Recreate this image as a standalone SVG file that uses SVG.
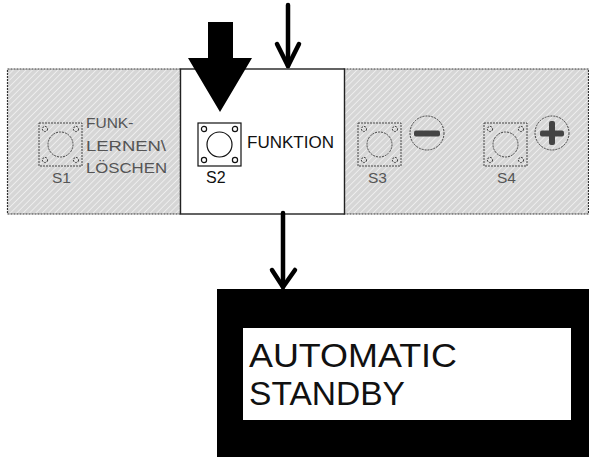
<svg xmlns="http://www.w3.org/2000/svg" width="589" height="457" viewBox="0 0 589 457">
<style>
.dim{fill:none;stroke:#444;stroke-width:1;stroke-dasharray:2 1}
.sol{fill:none;stroke:#111;stroke-width:1.2}
.lbl{font-family:"Liberation Sans",Arial,sans-serif;font-size:15.5px;fill:#555}
.lblk{font-family:"Liberation Sans",Arial,sans-serif;font-size:16px;fill:#111}
.disp{font-family:"Liberation Sans",Arial,sans-serif;font-size:33px;fill:#111}
.arr{fill:none;stroke:#000;stroke-width:4.5;stroke-linecap:round;stroke-linejoin:round}
</style>
<defs>
<pattern id="hatch" width="4.5" height="4.5" patternUnits="userSpaceOnUse" patternTransform="rotate(45)">
<rect width="4.5" height="4.5" fill="#d6d6d6"/>
<line x1="0" y1="0" x2="0" y2="4.5" stroke="#f2f2f2" stroke-width="1.6"/>
</pattern>
<g id="btn">
<rect x="0" y="0" width="43" height="43"/>
<circle cx="21.5" cy="21.5" r="12.5"/>
<circle cx="6" cy="6" r="2.6"/>
<circle cx="37" cy="6" r="2.6"/>
<circle cx="6" cy="37" r="2.6"/>
<circle cx="37" cy="37" r="2.6"/>
</g>
</defs>
<g id="panel-left">
<rect x="7.5" y="69" width="173" height="145" fill="url(#hatch)" stroke="#333" stroke-width="1.2" stroke-dasharray="2 1"/>
<use href="#btn" x="39" y="123" class="dim"/>
<text class="lbl" x="86" y="128">FUNK-</text>
<text class="lbl" x="86" y="151" textLength="80" lengthAdjust="spacingAndGlyphs">LERNEN\</text>
<text class="lbl" x="86" y="173" textLength="81" lengthAdjust="spacingAndGlyphs">LÖSCHEN</text>
<text class="lbl" x="52" y="183">S1</text>
</g>
<g id="panel-right">
<rect x="343.5" y="69" width="245" height="145" fill="url(#hatch)" stroke="#333" stroke-width="1.2" stroke-dasharray="2 1"/>
<use href="#btn" x="358" y="123" class="dim"/>
<circle cx="427" cy="133" r="17" class="dim"/>
<rect x="414" y="130.5" width="26" height="6" rx="2" fill="#444"/>
<text class="lbl" x="368" y="183">S3</text>
<use href="#btn" x="484" y="123" class="dim"/>
<circle cx="552" cy="133" r="17" class="dim"/>
<rect x="540" y="130.5" width="24" height="6" rx="2" fill="#444"/>
<rect x="549" y="121" width="6" height="24" rx="2" fill="#444"/>
<text class="lbl" x="497" y="183">S4</text>
</g>
<g id="panel-funktion">
<rect x="180.5" y="69" width="164" height="145" fill="#fff" stroke="#222" stroke-width="1.4"/>
<use href="#btn" x="198" y="123" class="sol"/>
<text class="lblk" x="247" y="148" font-size="17" textLength="87" lengthAdjust="spacingAndGlyphs">FUNKTION</text>
<text class="lblk" x="206" y="183">S2</text>
</g>
<g id="display">
<rect x="217" y="289" width="372" height="168" fill="#000"/>
<rect x="243" y="328" width="328" height="92" fill="#fff"/>
<text class="disp" x="249" y="367" textLength="208" lengthAdjust="spacingAndGlyphs">AUTOMATIC</text>
<text class="disp" x="249" y="405" textLength="156" lengthAdjust="spacingAndGlyphs">STANDBY</text>
</g>
<g id="connectors">
<polygon points="208,22 233,22 233,58 252,58 220,112 188,58 208,58" fill="#000"/>
<line x1="288" y1="5" x2="288" y2="66" class="arr"/>
<polyline points="277,44 288,66 299,44" class="arr"/>
<line x1="283" y1="213" x2="283" y2="287" class="arr" stroke-width="5"/>
<polyline points="272,270 283,287 295,270" class="arr" stroke-width="5"/>
</g>
</svg>
